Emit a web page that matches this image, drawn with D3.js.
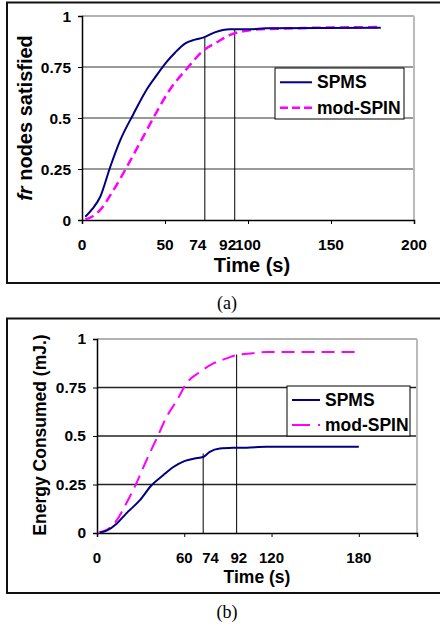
<!DOCTYPE html>
<html>
<head>
<meta charset="utf-8">
<script src="https://cdn.jsdelivr.net/npm/d3@7"></script>
<style>
  body { margin: 0; background: #fff; }
  svg { display: block; font-family: "Liberation Sans", Arial, sans-serif; }
</style>
</head>
<body>
<svg id="chart" width="440" height="627"></svg>
<script>
// ---- data ----
const seriesNames = ["SPMS", "mod-SPIN"];
const yTickValues = [0, 0.25, 0.5, 0.75, 1];
const yTickLabels = ["0", "0.25", "0.5", "0.75", "1"];

// panel (a): fraction of nodes satisfied
const aTicks = [0, 50, 100, 150, 200];
const aTickLabels = [0, 50, 74, 92, 100, 150, 200];
const aSpmsTime = [2, 6, 11, 17, 23, 31, 39, 45, 51, 56, 62, 68, 73, 80, 89, 101, 111, 180];
const aSpmsVal = [0.016, 0.052, 0.114, 0.26, 0.39, 0.52, 0.64, 0.71, 0.775, 0.82, 0.865, 0.884, 0.894, 0.92, 0.935, 0.935, 0.94, 0.943];
const aSpinTime = [2, 6, 11, 19, 29, 37, 45, 53, 63, 73, 81, 90, 101, 111, 180];
const aSpinVal = [0.003, 0.016, 0.05, 0.147, 0.29, 0.41, 0.53, 0.64, 0.74, 0.83, 0.87, 0.91, 0.93, 0.936, 0.946];
const aMarkTime = [74, 92];
const aMarkTop = [0.895, 0.936];

// panel (b): energy consumed
const bTicks = [0, 60, 120, 180];
const bTickLabels = [0, 60, 74, 92, 120, 180];
const bSpmsTime = [2, 7, 13.5, 20, 29.5, 37.5, 45.5, 52.5, 60.5, 67, 73, 77.5, 84.5, 94, 103, 116.5, 180];
const bSpmsVal = [0.003, 0.014, 0.048, 0.1, 0.169, 0.246, 0.298, 0.34, 0.372, 0.384, 0.392, 0.418, 0.435, 0.439, 0.44, 0.444, 0.444];
const bSpinTime = [1, 7, 13.5, 20, 27, 34, 41, 48, 55, 61.5, 71, 80, 89, 96, 107, 116.5, 180];
const bSpinVal = [0.003, 0.017, 0.065, 0.151, 0.255, 0.375, 0.487, 0.6, 0.685, 0.771, 0.831, 0.874, 0.9, 0.917, 0.926, 0.933, 0.933];
const bMarkTime = [73, 96];
const bMarkTop = [0.41, 0.92];

const svg = d3.select("#chart");

function zip(xs, ys) { return xs.map((t, i) => ({ t: t, v: ys[i] })); }

function drawPanel(o) {
    // outer frame (right edge runs off the page)
    svg.append("rect")
        .attr("x", 7).attr("y", o.frameTop)
        .attr("width", 445).attr("height", o.frameBottom - o.frameTop)
        .attr("fill", "none").attr("stroke", "#111").attr("stroke-width", 2);

    var x = d3.scaleLinear().domain(o.xDomain).range([o.left, o.right]);
    var y = d3.scaleLinear().domain([0, 1]).range([o.bottom, o.top]);
    var g = svg.append("g");

    // horizontal gridlines
    g.selectAll(".grid").data(yTickValues.slice(1)).enter().append("line")
        .attr("x1", o.left).attr("x2", o.right)
        .attr("y1", d => y(d)).attr("y2", d => y(d))
        .attr("stroke", d => d == 1 ? "#999" : o.gridColor).attr("stroke-width", 1.3);
    // right border of plot
    g.append("line")
        .attr("x1", o.right).attr("x2", o.right).attr("y1", o.top).attr("y2", o.bottom)
        .attr("stroke", "#bbb").attr("stroke-width", 2);

    // marker lines at 74 s and 92 s
    g.selectAll(".mark").data(o.markTime).enter().append("line")
        .attr("x1", d => x(d)).attr("x2", d => x(d))
        .attr("y1", (d, i) => y(o.markTop[i])).attr("y2", y(0))
        .attr("stroke", "#000").attr("stroke-width", 1);

    // axes
    var xAxis = d3.axisBottom(x).tickValues(o.ticks).tickSize(4).tickFormat("");
    var gx = g.append("g").attr("transform", "translate(0," + o.bottom + ")").call(xAxis);
    gx.select(".domain").attr("stroke-width", 1.5);
    var yAxis = d3.axisLeft(y).tickValues(yTickValues).tickSize(4).tickFormat("");
    var gy = g.append("g").attr("transform", "translate(" + o.left + ",0)").call(yAxis);
    gy.select(".domain").attr("stroke-width", 1.5);

    // x tick labels (74 and 92 are nudged like in the original)
    g.selectAll(".xl").data(o.tickLabels).enter().append("text")
        .attr("x", d => x(d) + (o.markLabelShift[d] || 0))
        .attr("y", o.bottom + o.xLabelDy)
        .attr("text-anchor", "middle")
        .style("font-weight", "bold").style("font-size", o.tickSize + "px")
        .text(d => d);
    // y tick labels
    g.selectAll(".yl").data(yTickValues).enter().append("text")
        .attr("x", o.left - 11)
        .attr("y", d => y(d) + o.tickSize * 0.36)
        .attr("text-anchor", "end")
        .style("font-weight", "bold").style("font-size", "15.5px")
        .text((d, i) => yTickLabels[i]);

    // axis titles
    g.append("text")
        .attr("x", o.xTitleX).attr("y", o.xTitleY)
        .attr("text-anchor", "middle")
        .style("font-weight", "bold").style("font-size", o.titleSize + "px")
        .text("Time (s)");
    var yt = g.append("text")
        .attr("transform", "translate(" + o.yTitleX + "," + o.yTitleY + ") rotate(-90)")
        .attr("text-anchor", "middle")
        .style("font-weight", "bold").style("font-size", o.titleSize + "px");
    if (o.yTitleItalic) {
        yt.append("tspan").style("font-style", "italic").text(o.yTitleItalic);
    }
    yt.append("tspan").text(o.yTitle);

    // curves
    var line = d3.line().x(d => x(d.t)).y(d => y(d.v)).curve(d3.curveMonotoneX);
    g.append("path").datum(zip(o.spinTime, o.spinVal))
        .attr("d", line).attr("fill", "none")
        .attr("stroke", "#ff00ff").attr("stroke-width", o.spinWidth)
        .attr("stroke-dasharray", o.spinDash);
    g.append("path").datum(zip(o.spmsTime, o.spmsVal))
        .attr("d", line).attr("fill", "none")
        .attr("stroke", "#000080").attr("stroke-width", 2);

    // legend
    var lg = g.append("g");
    lg.append("rect")
        .attr("x", o.legX).attr("y", o.legY).attr("width", o.legW).attr("height", o.legH)
        .attr("fill", "#fff").attr("stroke", "#000").attr("stroke-width", 1);
    seriesNames.forEach(function (name, i) {
        var ly = o.legY + o.legH * (0.28 + i * 0.5);
        lg.append("line")
            .attr("x1", o.legX + 5).attr("x2", o.legX + o.legSample)
            .attr("y1", ly).attr("y2", ly)
            .attr("stroke", i == 0 ? "#000080" : "#ff00ff")
            .attr("stroke-width", i == 0 ? 2 : o.spinWidth)
            .attr("stroke-dasharray", i == 0 ? null : o.legDash);
        lg.append("text")
            .attr("x", o.legX + o.legSample + 5).attr("y", ly + 6)
            .style("font-weight", "bold").style("font-size", o.legFont + "px")
            .text(name);
    });

    // caption
    svg.append("text")
        .attr("x", 227).attr("y", o.captionY)
        .attr("text-anchor", "middle")
        .style("font-family", "'Liberation Serif', 'Times New Roman', serif")
        .style("font-size", "18px")
        .text(o.caption);
}

drawPanel({
    frameTop: 2.5, frameBottom: 283,
    left: 82, right: 414, top: 16, bottom: 220, xDomain: [0, 200],
    gridColor: "#777",
    ticks: aTicks, tickLabels: aTickLabels, markLabelShift: { 74: -7, 92: -7 },
    markTime: aMarkTime, markTop: aMarkTop,
    xLabelDy: 30, tickSize: 15.5, titleSize: 20,
    xTitleX: 252, xTitleY: 272,
    yTitleX: 32, yTitleY: 118, yTitleItalic: "fr", yTitle: " nodes satisfied",
    spmsTime: aSpmsTime, spmsVal: aSpmsVal, spinTime: aSpinTime, spinVal: aSpinVal,
    spinWidth: 2.5, spinDash: "9,5", legDash: "8,4",
    legX: 275, legY: 68, legW: 129, legH: 51, legSample: 37, legFont: 17.5,
    caption: "(a)", captionY: 309
});

drawPanel({
    frameTop: 318.5, frameBottom: 593,
    left: 97, right: 417, top: 339, bottom: 533, xDomain: [0, 220],
    gridColor: "#222",
    ticks: bTicks, tickLabels: bTickLabels, markLabelShift: { 74: 6, 92: 8 },
    markTime: bMarkTime, markTop: bMarkTop,
    xLabelDy: 30, tickSize: 15, titleSize: 17.5,
    xTitleX: 257, xTitleY: 583,
    yTitleX: 46, yTitleY: 435, yTitleItalic: null, yTitle: "Energy Consumed (mJ.)",
    spmsTime: bSpmsTime, spmsVal: bSpmsVal, spinTime: bSpinTime, spinVal: bSpinVal,
    spinWidth: 2, spinDash: "13,7", legDash: "18,8",
    legX: 287, legY: 386, legW: 123, legH: 50, legSample: 33, legFont: 17.5,
    caption: "(b)", captionY: 618
});
</script>
</body>
</html>
